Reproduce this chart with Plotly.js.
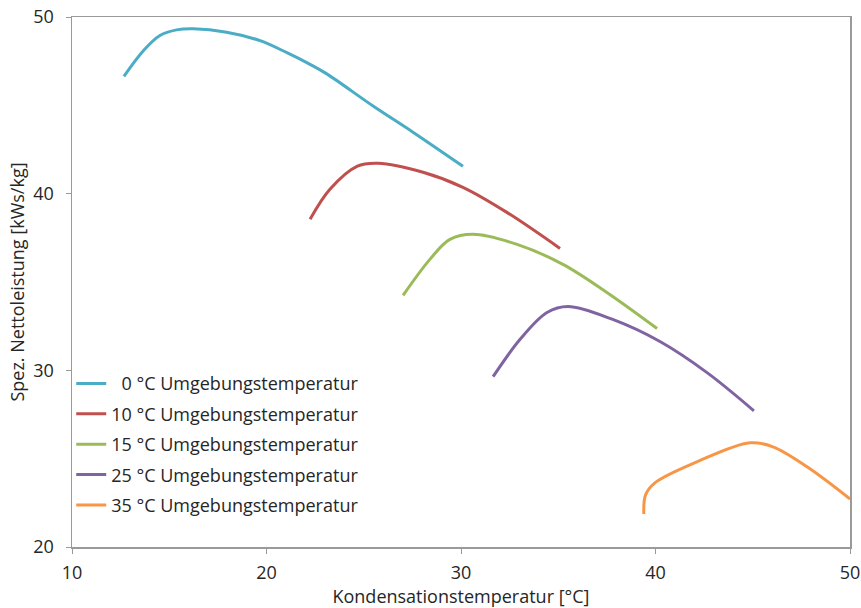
<!DOCTYPE html>
<html>
<head>
<meta charset="utf-8">
<script src="https://cdn.plot.ly/plotly-3.0.1.min.js"></script>
<style>html,body{margin:0;padding:0;background:#fff;}#chart{width:861px;height:608px;}</style>
</head>
<body>
<div id="chart"></div>
<script>
const seriesNames = ["\u20070 °C Umgebungstemperatur", "10 °C Umgebungstemperatur", "15 °C Umgebungstemperatur", "25 °C Umgebungstemperatur", "35 °C Umgebungstemperatur"];
const colors = ["#4BACC6", "#C0504D", "#9BBB59", "#8064A2", "#F79646"];

const x0 = [12.67, 13.67, 14.52, 15.38, 16.24, 17.95, 19.67, 21.05, 22.24, 23.1, 25.48, 27.53, 30.1];
const y0 = [46.64, 48.09, 48.95, 49.27, 49.33, 49.14, 48.66, 47.98, 47.32, 46.78, 44.96, 43.48, 41.55];

const x10 = [22.24, 23.26, 24.65, 25.73, 28.05, 30.1, 32.36, 35.09];
const y10 = [38.55, 40.25, 41.55, 41.72, 41.21, 40.36, 38.94, 36.9];

const x15 = [27.02, 28.4, 29.43, 30.62, 32.88, 35.24, 37.5, 40.08];
const y15 = [34.24, 36.28, 37.41, 37.7, 37.13, 36.0, 34.41, 32.37];

const x25 = [31.65, 33.03, 34.42, 35.5, 37.8, 40.23, 42.65, 45.06];
const y25 = [29.64, 31.74, 33.27, 33.61, 32.88, 31.63, 29.87, 27.71];

const x35 = [39.4, 39.49, 39.97, 42.13, 44.86, 46.04, 47.79, 50.0];
const y35 = [21.87, 22.95, 23.63, 24.82, 25.9, 25.67, 24.54, 22.72];

const xs = [x0, x10, x15, x25, x35];
const ys = [y0, y10, y15, y25, y35];

const traces = xs.map((x, i) => ({
  x: x, y: ys[i], name: seriesNames[i], type: "scatter", mode: "lines",
  legendgroup: "g" + i,
  line: {color: colors[i], width: 3, shape: "spline", smoothing: 1},
  cliponaxis: false
}));

const font = {family: "Open Sans, Liberation Sans, sans-serif", color: "#262626"};

const layout = {
  width: 861, height: 608,
  margin: {l: 72, r: 11, t: 17, b: 61},
  paper_bgcolor: "#fff", plot_bgcolor: "#fff",
  showlegend: true,
  legend: {
    x: -0.001, y: 0.343, xanchor: "left", yanchor: "top",
    font: Object.assign({size: 18}, font),
    tracegroupgap: 4, bgcolor: "rgba(0,0,0,0)", itemwidth: 30
  },
  xaxis: {
    range: [10, 50], dtick: 10, tick0: 10,
    showgrid: false, zeroline: false,
    showline: true, mirror: true, linecolor: "#9a9a9a", linewidth: 1.5,
    ticks: "outside", ticklen: 5, tickcolor: "#9a9a9a",
    ticklabelstandoff: 4,
    tickfont: Object.assign({size: 18}, font),
    title: {text: "Kondensationstemperatur [°C]", font: Object.assign({size: 18}, font), standoff: 2}
  },
  yaxis: {
    range: [20, 50], dtick: 10, tick0: 20,
    showgrid: false, zeroline: false,
    showline: true, mirror: true, linecolor: "#9a9a9a", linewidth: 1.5,
    ticks: "outside", ticklen: 5, tickcolor: "#9a9a9a",
    ticklabelstandoff: 8,
    tickfont: Object.assign({size: 18}, font),
    title: {text: "Spez. Nettoleistung [kWs/kg]", font: Object.assign({size: 18}, font), standoff: 4}
  }
};

Plotly.newPlot("chart", traces, layout, {staticPlot: true});
</script>
</body>
</html>
